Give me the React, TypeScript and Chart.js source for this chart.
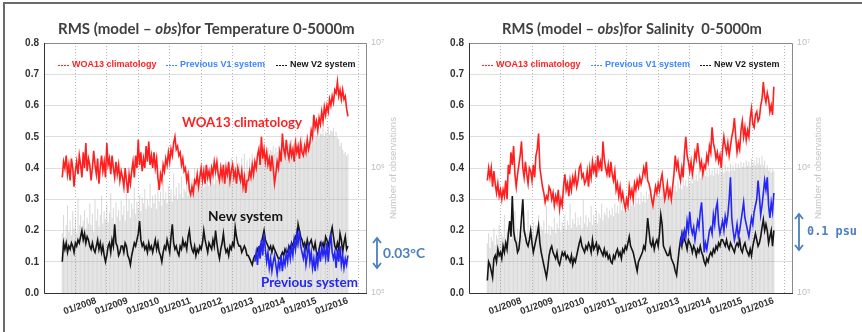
import React, { useEffect, useRef } from "react";
import { Chart, registerables } from "chart.js";
Chart.register(...registerables);

// ---- time axis (semi-monthly samples) ----
const T0 = 2007.08;
const DT = 1 / 24;
const X_MIN = 2007.07;
const X_MAX = 2016.2;
const YEAR_TICKS = [2008, 2009, 2010, 2011, 2012, 2013, 2014, 2015, 2016];
const OBS_TICKS = [1e5, 1e6, 1e7];
const V1_START = 147; // index where the previous V1 system starts (early 2013)

const LEGEND_LABELS = ["WOA13 climatology", "Previous V1 system", "New V2 system"];

// ---- Temperature panel ----
const tempWOA13 = [
  0.37,0.42,0.40,0.44,0.38,0.41,0.36,0.43,0.40,0.34,0.39,0.42,0.38,0.44,0.41,0.37,0.45,0.40,0.48,0.39,0.43,0.41,
  0.36,0.40,0.455,0.41,0.38,0.43,0.35,0.40,0.44,0.39,0.42,0.37,0.48,0.41,0.43,0.38,0.44,0.40,0.37,0.42,0.38,0.41,0.36,0.39,
  0.37,0.34,0.40,0.36,0.32,0.38,0.35,0.39,0.42,0.37,0.44,0.40,0.49,0.41,0.45,0.39,0.43,0.40,0.47,0.42,0.485,0.41,0.44,0.40,
  0.45,0.40,0.43,0.37,0.33,0.38,0.36,0.41,0.39,0.43,0.41,0.45,0.42,0.46,0.44,0.48,0.50,0.46,0.47,0.44,0.45,0.41,0.43,0.39,
  0.40,0.36,0.38,0.33,0.315,0.34,0.32,0.36,0.35,0.38,0.34,0.37,0.40,0.36,0.39,0.35,0.41,0.37,0.39,0.36,0.40,0.38,0.42,0.39,
  0.42,0.38,0.36,0.40,0.37,0.41,0.35,0.40,0.38,0.42,0.36,0.39,0.41,0.37,0.39,0.35,0.40,0.38,0.36,0.39,0.34,0.37,0.32,0.36,
  0.36,0.39,0.37,0.41,0.38,0.42,0.40,0.44,0.46,0.41,0.50,0.43,0.46,0.42,0.45,0.41,0.43,0.39,0.44,0.40,0.35,0.38,0.42,0.40,
  0.45,0.42,0.51,0.46,0.44,0.49,0.45,0.43,0.47,0.44,0.46,0.42,0.48,0.45,0.47,0.43,0.48,0.45,0.44,0.47,0.45,0.49,0.46,0.48,
  0.52,0.50,0.57,0.53,0.55,0.52,0.56,0.54,0.58,0.55,0.595,0.57,0.60,0.58,0.62,0.60,0.63,0.61,0.65,0.64,0.676,0.63,0.65,0.62,
  0.65,0.62,0.63,0.59,0.565,
];
const tempNewV2 = [
  0.10,0.16,0.14,0.16,0.13,0.15,0.14,0.16,0.15,0.13,0.16,0.15,0.17,0.16,0.18,0.20,0.17,0.19,0.16,0.18,0.17,0.15,
  0.14,0.16,0.14,0.13,0.15,0.17,0.14,0.16,0.13,0.15,0.12,0.10,0.12,0.15,0.16,0.13,0.17,0.15,0.22,0.16,0.15,0.12,0.13,0.15,
  0.15,0.13,0.16,0.15,0.12,0.11,0.09,0.12,0.14,0.16,0.15,0.17,0.19,0.23,0.17,0.15,0.16,0.14,0.15,0.13,0.16,0.14,0.15,0.13,
  0.15,0.17,0.14,0.16,0.13,0.12,0.10,0.13,0.15,0.14,0.17,0.15,0.13,0.18,0.22,0.16,0.14,0.15,0.13,0.12,0.15,0.14,0.17,0.15,
  0.16,0.14,0.18,0.20,0.16,0.14,0.13,0.15,0.12,0.14,0.13,0.15,0.14,0.16,0.20,0.17,0.15,0.13,0.16,0.15,0.14,0.17,0.15,0.20,
  0.16,0.13,0.11,0.14,0.16,0.19,0.15,0.13,0.14,0.12,0.15,0.14,0.16,0.15,0.21,0.18,0.16,0.15,0.15,0.13,0.14,0.15,0.14,0.12,
  0.12,0.11,0.10,0.09,0.11,0.12,0.12,0.14,0.13,0.15,0.16,0.18,0.20,0.17,0.16,0.15,0.14,0.15,0.13,0.15,0.14,0.13,0.12,0.11,
  0.11,0.12,0.13,0.12,0.14,0.13,0.13,0.15,0.14,0.16,0.15,0.17,0.18,0.16,0.22,0.20,0.18,0.17,0.15,0.16,0.14,0.17,0.15,0.16,
  0.17,0.15,0.14,0.16,0.13,0.12,0.14,0.16,0.15,0.16,0.14,0.18,0.17,0.15,0.17,0.19,0.21,0.18,0.15,0.14,0.16,0.14,0.19,0.17,
  0.13,0.16,0.18,0.14,0.15,
];
const tempPrevV1 = [
  0.10,0.13,0.09,0.15,0.11,0.17,0.12,0.19,0.14,0.10,0.13,0.08,0.11,0.07,0.10,0.12,0.09,0.06,0.10,
  0.08,0.12,0.07,0.11,0.09,0.13,0.10,0.14,0.11,0.15,0.12,0.17,0.14,0.19,0.16,0.20,0.15,0.13,0.11,0.14,0.09,0.12,0.16,0.10,
  0.13,0.08,0.11,0.07,0.12,0.09,0.14,0.10,0.15,0.12,0.14,0.11,0.16,0.10,0.15,0.19,0.13,0.11,0.13,0.08,0.14,0.10,0.15,0.09,
  0.12,0.08,0.11,0.09,0.12,
];
// number of observations, in thousands
const tempObsK = [
  300,420,280,350,500,310,380,290,450,330,400,300,560,350,420,310,380,460,330,400,360,520,
  350,430,310,560,380,470,340,420,600,360,450,390,500,370,440,630,400,480,360,530,410,460,380,550,
  420,500,380,640,450,560,400,520,470,700,430,540,480,610,450,580,520,680,470,560,500,750,480,600,
  520,620,470,700,540,650,500,800,560,640,520,720,580,680,540,900,600,700,560,760,620,850,580,680,
  650,760,600,900,680,820,640,1000,700,800,660,950,720,880,700,1050,760,860,720,980,780,900,740,1100,
  800,950,760,1100,820,980,800,1150,860,1000,840,1200,880,1050,860,1250,900,1100,880,1200,920,1300,900,1150,
  950,1200,980,1300,1000,1150,1050,1350,1100,1250,1150,1400,1200,1300,1250,1450,1300,1400,1350,1500,1300,1450,1350,1500,
  1400,1550,1350,1500,1450,1650,1400,1550,1500,1700,1450,1600,1550,1750,1500,1650,1600,1800,1550,1700,1650,1850,1600,1750,
  1700,1900,1650,1850,1800,2000,1750,1900,1850,2100,1800,1950,1900,2150,1850,2000,1950,2100,1800,1950,1750,1700,1500,1600,
  1400,1300,1350,1250,1300,
];

// ---- Salinity panel ----
const salWOA13 = [
  0.36,0.40,0.37,0.40,0.34,0.39,0.35,0.32,0.35,0.31,0.33,0.30,0.33,0.31,0.36,0.30,0.41,0.38,0.45,0.41,0.47,0.38,
  0.34,0.38,0.41,0.44,0.485,0.40,0.37,0.42,0.38,0.35,0.40,0.39,0.36,0.41,0.37,0.44,0.46,0.51,0.40,0.37,0.34,0.32,0.29,0.31,
  0.30,0.34,0.33,0.30,0.32,0.28,0.31,0.29,0.33,0.27,0.30,0.28,0.34,0.38,0.33,0.35,0.31,0.36,0.33,0.37,0.35,0.38,0.34,0.36,
  0.40,0.41,0.37,0.38,0.35,0.36,0.39,0.34,0.40,0.37,0.42,0.39,0.41,0.37,0.44,0.40,0.42,0.39,0.485,0.43,0.40,0.38,0.41,0.37,
  0.42,0.38,0.36,0.39,0.33,0.35,0.31,0.34,0.30,0.32,0.29,0.27,0.30,0.28,0.34,0.31,0.33,0.30,0.35,0.33,0.36,0.34,0.37,0.35,
  0.37,0.40,0.38,0.42,0.36,0.35,0.33,0.30,0.28,0.31,0.34,0.32,0.35,0.33,0.36,0.38,0.34,0.30,0.32,0.35,0.31,0.33,0.30,0.34,
  0.38,0.44,0.40,0.42,0.38,0.36,0.40,0.37,0.45,0.50,0.44,0.42,0.39,0.42,0.38,0.41,0.45,0.43,0.48,0.44,0.40,0.42,0.38,0.41,
  0.40,0.44,0.42,0.47,0.45,0.53,0.48,0.46,0.43,0.45,0.42,0.44,0.40,0.46,0.50,0.47,0.45,0.48,0.44,0.47,0.50,0.52,0.56,0.50,
  0.45,0.48,0.46,0.52,0.55,0.50,0.53,0.49,0.52,0.50,0.56,0.59,0.54,0.53,0.57,0.58,0.55,0.56,0.60,0.62,0.675,0.63,0.61,0.64,
  0.62,0.58,0.60,0.57,0.66,
];
const salNewV2 = [
  0.04,0.10,0.09,0.07,0.05,0.11,0.12,0.10,0.14,0.12,0.13,0.11,0.15,0.13,0.16,0.14,0.19,0.23,0.18,0.31,0.20,0.17,
  0.16,0.13,0.14,0.18,0.24,0.30,0.20,0.18,0.16,0.15,0.17,0.20,0.16,0.13,0.15,0.17,0.19,0.215,0.16,0.13,0.11,0.09,0.07,0.05,
  0.08,0.12,0.14,0.15,0.13,0.12,0.11,0.13,0.10,0.09,0.11,0.13,0.12,0.13,0.11,0.12,0.11,0.10,0.12,0.09,0.11,0.10,0.12,0.14,
  0.16,0.175,0.15,0.14,0.13,0.15,0.14,0.16,0.15,0.13,0.17,0.14,0.15,0.16,0.13,0.15,0.14,0.13,0.12,0.14,0.12,0.13,0.11,0.12,
  0.10,0.095,0.12,0.11,0.13,0.14,0.12,0.13,0.11,0.14,0.13,0.15,0.14,0.16,0.18,0.15,0.14,0.13,0.11,0.09,0.07,0.10,0.11,0.12,
  0.13,0.15,0.14,0.18,0.24,0.20,0.16,0.15,0.17,0.14,0.16,0.17,0.15,0.19,0.25,0.22,0.15,0.14,0.13,0.12,0.12,0.14,0.11,0.10,
  0.09,0.07,0.057,0.10,0.14,0.17,0.15,0.19,0.17,0.16,0.14,0.17,0.16,0.15,0.13,0.15,0.14,0.12,0.14,0.13,0.15,0.13,0.12,0.10,
  0.09,0.11,0.10,0.12,0.13,0.12,0.14,0.13,0.15,0.14,0.16,0.15,0.17,0.17,0.16,0.15,0.17,0.15,0.14,0.16,0.15,0.14,0.13,0.15,
  0.16,0.15,0.17,0.14,0.13,0.15,0.16,0.14,0.13,0.12,0.14,0.12,0.15,0.17,0.19,0.17,0.15,0.16,0.18,0.21,0.235,0.20,0.22,0.20,
  0.16,0.18,0.20,0.15,0.20,
];
const salPrevV1 = [
  0.15,0.19,0.17,0.20,0.18,0.23,0.20,0.26,0.21,0.19,0.21,0.17,0.20,0.23,0.21,0.26,0.29,0.22,0.13,
  0.16,0.14,0.17,0.20,0.21,0.19,0.25,0.22,0.27,0.29,0.22,0.19,0.21,0.23,0.20,0.245,0.22,0.25,0.30,0.37,0.24,0.20,0.17,0.19,
  0.22,0.18,0.20,0.23,0.26,0.29,0.24,0.22,0.20,0.18,0.21,0.24,0.22,0.26,0.28,0.30,0.36,0.31,0.25,0.28,0.32,0.36,0.33,0.37,
  0.28,0.24,0.29,0.26,0.32,
];
const salObsK = [
  250,300,230,280,260,330,240,290,270,350,250,300,280,420,260,310,290,360,270,320,300,450,
  280,330,260,310,290,380,270,320,300,460,280,330,300,370,290,350,310,420,300,340,320,380,300,500,
  300,350,290,340,320,400,300,360,330,480,310,370,340,420,320,380,350,520,330,390,360,440,340,400,
  350,410,330,560,360,420,340,400,370,500,350,420,380,460,360,430,400,520,380,440,420,480,400,460,
  420,480,410,520,440,500,430,560,460,520,450,580,480,540,470,600,500,560,490,620,520,580,510,640,
  540,600,530,650,560,620,550,680,580,640,570,700,600,660,590,720,620,680,610,740,640,700,630,760,
  660,720,650,780,690,760,680,820,720,800,710,860,760,840,750,900,800,880,790,940,830,900,820,960,
  860,940,850,980,880,960,870,1000,900,980,890,1040,920,1000,910,1060,940,1020,930,1080,960,1050,950,1100,
  1000,1080,990,1120,1020,1100,1010,1150,1040,1120,1030,1180,1060,1150,1050,1220,1080,1200,1060,1250,1040,1150,980,1050,
  950,1000,920,980,940,
];

const RED = "#ff1f1f";
const BLACK = "#151515";
const BLUE = "#2326f5";
const LEGEND_BLUE = "#3d86ff";
const STEEL = "#4b7fbd";
const SANS = "'Liberation Sans', Arial, sans-serif";
const LATO = "Lato, 'Open Sans', sans-serif";

type Seg = { text: string; style: string };
type Note = { text: string; x0: number; x1: number; cy: number; color: string; family: string };

const PANELS = [
  {
    left: 0,
    yWidth: 44,
    y1Width: 64,
    title: [
      { text: "RMS (model \u2013 ", style: "normal" },
      { text: "obs", style: "italic" },
      { text: ")for Temperature 0-5000m", style: "normal" },
    ] as Seg[],
    titleX: [58, 355],
    legendX: [58, 166, 276],
    woa: tempWOA13,
    v2: tempNewV2,
    v1: tempPrevV1,
    obs: tempObsK,
    notes: [
      { text: "WOA13 climatology", x0: 182, x1: 302, cy: 123, color: RED, family: LATO },
      { text: "New system", x0: 208, x1: 283, cy: 217, color: BLACK, family: LATO },
      { text: "Previous system", x0: 261, x1: 358, cy: 283, color: BLUE, family: LATO },
      { text: "0.03\u00b0C", x0: 383, x1: 425, cy: 254, color: STEEL, family: LATO },
    ] as Note[],
    arrow: { x: 377, y0: 238, y1: 268 },
    obsLabelX: 393,
  },
  {
    left: 431,
    yWidth: 38,
    y1Width: 69,
    title: [
      { text: "RMS (model \u2013 ", style: "normal" },
      { text: "obs", style: "italic" },
      { text: ")for Salinity  0-5000m", style: "normal" },
    ] as Seg[],
    titleX: [71, 331],
    legendX: [51, 160, 269],
    woa: salWOA13,
    v2: salNewV2,
    v1: salPrevV1,
    obs: salObsK,
    notes: [
      { text: "0.1 psu", x0: 376, x1: 426, cy: 232, color: STEEL, family: "'DejaVu Sans Mono', monospace" },
    ] as Note[],
    arrow: { x: 368, y0: 214, y1: 250 },
    obsLabelX: 387,
  },
];

function fitSize(ctx: CanvasRenderingContext2D, segs: Seg[], width: number, weight: string, family: string) {
  const base = 20;
  let w = 0;
  for (const s of segs) {
    ctx.font = `${s.style} ${weight} ${base}px ${family}`;
    w += ctx.measureText(s.text).width;
  }
  return (base * width) / w;
}

function drawSegs(ctx: CanvasRenderingContext2D, segs: Seg[], x0: number, x1: number, cy: number, weight: string, family: string, color: string) {
  const size = fitSize(ctx, segs, x1 - x0, weight, family);
  let x = x0;
  ctx.textAlign = "left";
  ctx.textBaseline = "middle";
  ctx.fillStyle = color;
  for (const s of segs) {
    ctx.font = `${s.style} ${weight} ${size}px ${family}`;
    ctx.fillText(s.text, x, cy);
    x += ctx.measureText(s.text).width;
  }
}

function chevron(ctx: CanvasRenderingContext2D, x: number, y: number, dir: number) {
  ctx.beginPath();
  ctx.moveTo(x - 4, y + dir * 5);
  ctx.lineTo(x, y);
  ctx.lineTo(x + 4, y + dir * 5);
  ctx.stroke();
}

function makeDecor(p: (typeof PANELS)[number]) {
  return {
    id: "decor",
    afterDraw(chart: any) {
      const { ctx, chartArea: a } = chart;
      ctx.save();
      // plot frame
      ctx.lineWidth = 1;
      ctx.strokeStyle = "#8a8a8a";
      ctx.beginPath();
      ctx.moveTo(a.left, a.top + 0.5);
      ctx.lineTo(a.right - 0.5, a.top + 0.5);
      ctx.lineTo(a.right - 0.5, a.bottom);
      ctx.stroke();
      ctx.strokeStyle = "#333";
      ctx.beginPath();
      ctx.moveTo(a.left + 0.5, a.top);
      ctx.lineTo(a.left + 0.5, a.bottom + 0.5);
      ctx.lineTo(a.right, a.bottom + 0.5);
      ctx.stroke();

      // title
      drawSegs(ctx, p.title, p.titleX[0], p.titleX[1], 29, "bold", LATO, "#404040");

      // legend inside plot
      const colors = [RED, LEGEND_BLUE, BLACK];
      ctx.font = `bold 9px ${SANS}`;
      ctx.textBaseline = "middle";
      ctx.textAlign = "left";
      LEGEND_LABELS.forEach((lab, i) => {
        const x = p.legendX[i];
        ctx.strokeStyle = colors[i];
        ctx.lineWidth = 1;
        ctx.setLineDash([2, 1]);
        ctx.beginPath();
        ctx.moveTo(x, 65.5);
        ctx.lineTo(x + 11, 65.5);
        ctx.stroke();
        ctx.setLineDash([]);
        ctx.fillStyle = colors[i];
        ctx.fillText(lab, x + 14, 65);
      });

      // annotations
      for (const n of p.notes) {
        drawSegs(ctx, [{ text: n.text, style: "normal" }], n.x0, n.x1, n.cy, "bold", n.family, n.color);
      }

      // double arrow
      const ar = p.arrow;
      ctx.strokeStyle = STEEL;
      ctx.lineWidth = 1.8;
      ctx.beginPath();
      ctx.moveTo(ar.x, ar.y0 + 1);
      ctx.lineTo(ar.x, ar.y1 - 1);
      ctx.stroke();
      chevron(ctx, ar.x, ar.y0, 1);
      chevron(ctx, ar.x, ar.y1, -1);

      // right axis title (reads bottom to top)
      ctx.translate(p.obsLabelX, 168);
      ctx.rotate(-Math.PI / 2);
      const label = "Number of observations";
      const fs = fitSize(ctx, [{ text: label, style: "normal" }], 102, "normal", SANS);
      ctx.font = `normal ${fs}px ${SANS}`;
      ctx.fillStyle = "#c6c6c6";
      ctx.textAlign = "center";
      ctx.textBaseline = "middle";
      ctx.fillText(label, 0, 0);
      ctx.restore();
    },
  };
}

const SUP: Record<string, string> = { "5": "\u2075", "6": "\u2076", "7": "\u2077" };

function buildConfig(p: (typeof PANELS)[number]): any {
  const xAt = (i: number) => T0 + i * DT;
  const line = (vals: number[], start: number, color: string, order: number, label: string) => ({
    type: "line",
    label,
    data: vals.map((v, j) => ({ x: xAt(start + j), y: v })),
    borderColor: color,
    borderWidth: 1.6,
    pointRadius: 0,
    tension: 0,
    yAxisID: "y",
    order,
  });
  return {
    type: "line",
    data: {
      datasets: [
        {
          type: "bar",
          label: "Number of observations",
          data: p.obs.map((v, i) => ({ x: xAt(i), y: v * 1000 })),
          yAxisID: "y1",
          backgroundColor: "rgba(165,165,165,0.42)",
          borderWidth: 0,
          barPercentage: 0.8,
          categoryPercentage: 1,
          order: 10,
        },
        line(p.woa, 0, RED, 3, LEGEND_LABELS[0]),
        line(p.v2, 0, BLACK, 2, LEGEND_LABELS[2]),
        line(p.v1, V1_START, BLUE, 1, LEGEND_LABELS[1]),
      ],
    },
    options: {
      animation: false,
      responsive: false,
      devicePixelRatio: 1,
      layout: { padding: { top: 43, left: 0, right: 0, bottom: 0 } },
      plugins: { legend: { display: false }, tooltip: { enabled: false }, title: { display: false } },
      scales: {
        x: {
          type: "linear",
          min: X_MIN,
          max: X_MAX,
          afterBuildTicks: (s: any) => {
            s.ticks = YEAR_TICKS.map((v) => ({ value: v }));
          },
          afterFit: (s: any) => {
            s.height = 39;
          },
          ticks: {
            callback: (v: number) => "01/" + v,
            minRotation: 20,
            maxRotation: 20,
            autoSkip: false,
            labelOffset: 5,
            padding: 2,
            color: "#333",
            font: { family: SANS, size: 9.5, weight: "bold" },
          },
          grid: { color: "#b5b5b5", lineWidth: 1, drawTicks: false },
          border: { display: false, dash: [1, 2] },
        },
        y: {
          min: 0,
          max: 0.8,
          afterFit: (s: any) => {
            s.width = p.yWidth;
          },
          ticks: {
            stepSize: 0.1,
            callback: (v: number) => v.toFixed(1),
            padding: 5,
            color: "#333",
            font: { family: SANS, size: 10, weight: "bold" },
          },
          grid: { color: "#dedede", lineWidth: 1, drawTicks: false },
          border: { display: false },
        },
        y1: {
          type: "logarithmic",
          position: "right",
          min: OBS_TICKS[0],
          max: OBS_TICKS[OBS_TICKS.length - 1],
          afterBuildTicks: (s: any) => {
            s.ticks = OBS_TICKS.map((v) => ({ value: v }));
          },
          afterFit: (s: any) => {
            s.width = p.y1Width;
          },
          ticks: {
            callback: (v: number) => "10" + (SUP[String(Math.round(Math.log10(v)))] || ""),
            padding: 4,
            autoSkip: false,
            color: "#bdbdbd",
            font: { family: SANS, size: 9 },
          },
          grid: { display: false, drawTicks: false },
          border: { display: false },
        },
      },
    },
    plugins: [makeDecor(p)],
  };
}

function Panel({ p }: { p: (typeof PANELS)[number] }) {
  const ref = useRef<HTMLCanvasElement>(null);
  useEffect(() => {
    const chart = new Chart(ref.current as HTMLCanvasElement, buildConfig(p));
    return () => chart.destroy();
  }, [p]);
  return (
    <canvas
      ref={ref}
      width={431}
      height={332}
      style={{ position: "absolute", left: p.left, top: 0, width: 431, height: 332 }}
    />
  );
}

export default function App() {
  return (
    <div
      style={{
        position: "fixed",
        left: 0,
        top: 0,
        width: 862,
        height: 332,
        background: "#fff",
        overflow: "hidden",
      }}
    >
      <div
        style={{
          position: "absolute",
          left: 3,
          top: 2,
          width: 900,
          height: 400,
          borderTop: "2px solid #6a6a6a",
          borderLeft: "2px solid #6a6a6a",
        }}
      />
      {PANELS.map((p, i) => (
        <Panel key={i} p={p} />
      ))}
    </div>
  );
}
